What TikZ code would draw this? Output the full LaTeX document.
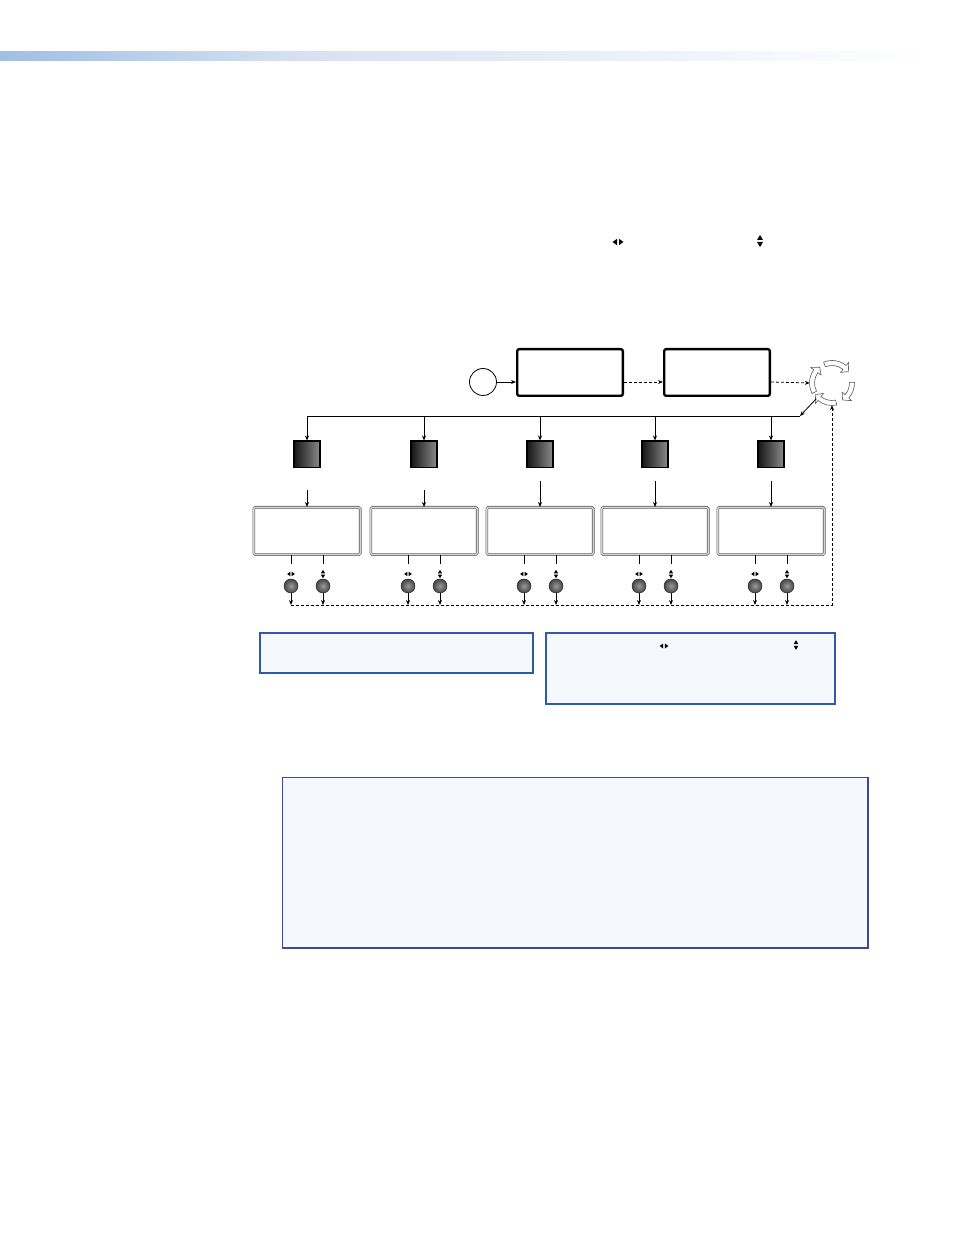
\documentclass[tikz,border=0pt]{standalone}
\usepackage{xcolor}
\usepackage{tikz}
\usetikzlibrary{arrows.meta,positioning,calc}

\definecolor{barblue}{RGB}{160,190,228}
\definecolor{barmid}{RGB}{214,225,243}
\definecolor{noteline}{RGB}{47,90,168}
\definecolor{notefill}{RGB}{245,249,253}
\definecolor{panelline}{RGB}{62,70,157}

\tikzset{
  menubox/.style={draw, line width=2.4pt, rounded corners=2pt,
    minimum width=105.6pt, minimum height=46.6pt, inner sep=0pt},
  lcdbox/.style={draw=black!65, double=gray!35, double distance=1.4pt,
    line width=0.6pt, rounded corners=1.5pt,
    minimum width=106.4pt, minimum height=47.4pt, inner sep=0pt},
  keybox/.style={draw, line width=1.6pt, left color=black!92, right color=black!45,
    minimum size=26.4pt, inner sep=0pt},
  knob/.style={circle, draw=black!85, line width=0.5pt, shading=radial,
    inner color=black!40, outer color=black!72, minimum size=14pt, inner sep=0pt},
  notebox/.style={draw=noteline, line width=1.6pt, fill=notefill, inner sep=0pt},
  flow/.style={line width=0.8pt, ->},
  back/.style={line width=0.8pt, dash pattern=on 3pt off 2pt},
  lrsym/.pic={\fill (-5.5,0) -- (-1,3.2) -- (-1,-3.2) -- cycle;
              \fill (5.5,0) -- (1,3.2) -- (1,-3.2) -- cycle;},
  udsym/.pic={\fill (-3,1) -- (3,1) -- (0,6) -- cycle;
              \fill (-3,-1) -- (3,-1) -- (0,-6) -- cycle;}
}

\begin{document}
\begin{tikzpicture}[x=1pt, y=1pt, >={Stealth[length=5pt,width=4pt]}]
  \useasboundingbox (0,0) rectangle (954,1235);

  % header bar
  \shade[left color=barblue, right color=barmid] (0,1174) rectangle (300,1183);
  \shade[left color=barmid, right color=white] (300,1174) rectangle (930,1183);

  % keys named in the text
  \pic at (618,993) {lrsym};
  \pic at (760,994) {udsym};

  % top row
  \node[circle, draw, line width=0.8pt, minimum size=27pt, inner sep=0pt] (start) at (483,853) {};
  \node[menubox] (menuA) at (570,862.5) {};
  \node[menubox] (menuB) at (717,862.5) {};
  \node[circle, minimum size=44pt, inner sep=0pt] (cycle) at (832,852) {};
  \draw[flow] (start) -- (start -| menuA.west);
  \draw[flow, back] (menuA.east |- start) -- (menuB.west |- start);
  \draw[flow, back] (menuB.east |- start) -- (cycle.west);

  % rotating arrows
  \begin{scope}[shift={(cycle.center)}]
    \foreach \a/\b in {112/35, 2/-58, -78/-145, 208/128} {
      \pgfmathsetmacro\h{\b+16}
      \filldraw[fill=white, draw=black!65, line width=0.6pt, line join=round]
        (\a:22.5) arc[start angle=\a, end angle=\h, radius=22.5] -- (\h:26.5) -- (\b:20)
        -- (\h:13.5) -- (\h:17.5) arc[start angle=\h, end angle=\a, radius=17.5] -- cycle;
    }
  \end{scope}

  % bus to the five keys
  \coordinate (busR) at (800,819);
  \coordinate (dashL) at (291,630);
  \coordinate (dashR) at (832,630);
  \draw[flow] (cycle.225) -- (busR);
  \draw[line width=0.8pt] (busR) -- (busR -| 307,0);

  \foreach \i/\x/\g in {1/307/22, 2/424/22, 3/540/13, 4/655/13, 5/771/13} {
    \node[keybox] (key\i) at (\x,780.5) {};
    \node[lcdbox] (lcd\i) at (\x,704) {};
    \draw[flow] (busR -| key\i) -- (key\i.north);
    \draw[flow] ([yshift=-\g pt]key\i.south) -- (lcd\i.north);
    \node[knob] (knobL\i) at (\x-16,649) {};
    \node[knob] (knobR\i) at (\x+16,649) {};
    \draw[line width=0.8pt] (lcd\i.south -| knobL\i) -- ++(0,-9);
    \draw[line width=0.8pt] (lcd\i.south -| knobR\i) -- ++(0,-9);
    \pic[scale=0.7] at (\x-16,661) {lrsym};
    \pic[scale=0.7] at (\x+16,661) {udsym};
    \draw[flow] (knobL\i) -- (knobL\i |- dashL);
    \draw[flow] (knobR\i) -- (knobR\i |- dashL);
  }
  \draw[flow, back] (dashL) -- (dashR) -- (cycle.south);

  % notes
  \node[notebox, minimum width=273.4pt, minimum height=40.4pt] (noteA) at (396.5,582) {};
  \node[notebox, minimum width=289.4pt, minimum height=71.4pt] (noteB) at (690.5,566.5) {};
  \pic[scale=0.8] at (664,589) {lrsym};
  \pic[scale=0.8] at (796,590) {udsym};

  \node[draw=panelline, line width=1.2pt, fill=notefill, inner sep=0pt,
        minimum width=584.8pt, minimum height=169.8pt] (panel) at (575,372.5) {};
  \draw[panelline, line width=2pt] (panel.north east) -- (panel.south east) -- (panel.south west);
\end{tikzpicture}
\end{document}
